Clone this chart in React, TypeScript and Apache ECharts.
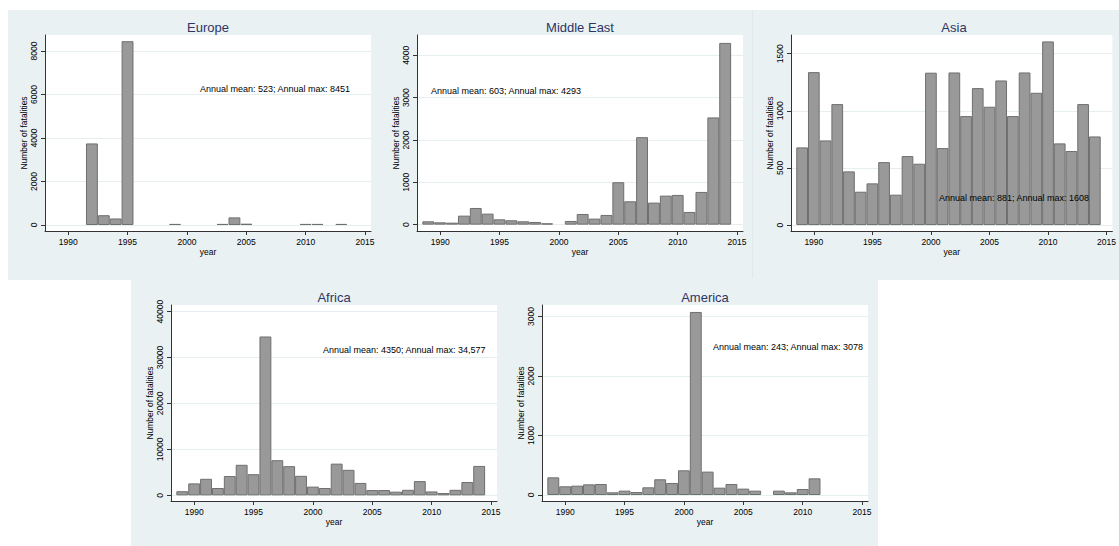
import React, { useEffect, useRef } from 'react';
import * as echarts from 'echarts';

const years = [1989, 1990, 1991, 1992, 1993, 1994, 1995, 1996, 1997, 1998, 1999, 2000, 2001, 2002, 2003, 2004, 2005, 2006, 2007, 2008, 2009, 2010, 2011, 2012, 2013, 2014];

const europe = [0, 0, 0, 3750, 450, 300, 8451, 0, 0, 0, 50, 0, 0, 0, 50, 350, 60, 0, 0, 0, 0, 50, 50, 0, 50, 0];
const middleEast = [79, 55, 47, 213, 394, 260, 126, 103, 79, 63, 32, 0, 87, 252, 142, 229, 1002, 552, 2067, 521, 686, 702, 300, 773, 2533, 4293];
const asia = [680, 1339, 741, 1059, 470, 292, 365, 551, 266, 604, 537, 1334, 674, 1336, 954, 1199, 1036, 1266, 954, 1336, 1158, 1608, 715, 648, 1059, 776];
const africa = [900, 2600, 3600, 1600, 4200, 6650, 4600, 34577, 7650, 6350, 4250, 1900, 1600, 6900, 5550, 2700, 1150, 1150, 800, 1200, 3100, 850, 500, 1200, 2900, 6400];
const america = [297, 146, 157, 179, 185, 45, 73, 50, 129, 264, 202, 415, 3078, 393, 123, 185, 107, 73, 0, 73, 45, 101, 280, 0, 0, 0];

const xTicks = [1990, 1995, 2000, 2005, 2010, 2015];
const europeTicks = [0, 2000, 4000, 6000, 8000];
const middleEastTicks = [0, 1000, 2000, 3000, 4000];
const asiaTicks = [0, 500, 1000, 1500];
const africaTicks = [0, 10000, 20000, 30000, 40000];
const americaTicks = [0, 1000, 2000, 3000];

const titles = ['Europe', 'Middle East', 'Asia', 'Africa', 'America'];
const notes = [
  'Annual mean: 523; Annual max: 8451',
  'Annual mean: 603; Annual max: 4293',
  'Annual mean: 881; Annual max: 1608',
  'Annual mean: 4350; Annual max: 34,577',
  'Annual mean: 243; Annual max: 3078',
];

const FONT = '"Liberation Sans", Arial, sans-serif';

const panels = [
  { values: europe, ticks: europeTicks, yMin: -276, yMax: 8736, left: 45, top: 35, noteX: 200, noteY: 89 },
  { values: middleEast, ticks: middleEastTicks, yMin: -150, yMax: 4480, left: 417, top: 35, noteX: 431, noteY: 91 },
  { values: asia, ticks: asiaTicks, yMin: -52, yMax: 1664, left: 791, top: 35, noteX: 939, noteY: 198 },
  { values: africa, ticks: africaTicks, yMin: -1232, yMax: 41430, left: 171, top: 305, noteX: 323, noteY: 350 },
  { values: america, ticks: americaTicks, yMin: -101, yMax: 3195, left: 542, top: 305, noteX: 713, noteY: 347 },
];

const GRID_W = 326;
const GRID_H = 196;

export default function App() {
  const ref = useRef<HTMLDivElement>(null);

  useEffect(() => {
    if (!ref.current) return;
    const chart = echarts.init(ref.current, undefined, { renderer: 'svg' });

    const grid = panels.map((p) => ({
      left: p.left,
      top: p.top,
      width: GRID_W,
      height: GRID_H,
      show: true,
      backgroundColor: '#ffffff',
      borderWidth: 0,
    }));

    const xAxis = panels.map((p, i) => ({
      type: 'value',
      gridIndex: i,
      min: 1988.05,
      max: 2015.5,
      name: 'year',
      nameLocation: 'middle',
      nameGap: 16,
      nameTextStyle: { fontFamily: FONT, fontSize: 8.5, color: '#000' },
      axisLine: { show: true, onZero: false, lineStyle: { color: '#333', width: 1 } },
      axisTick: { show: true, length: 4, customValues: xTicks, lineStyle: { color: '#333' } },
      axisLabel: {
        customValues: xTicks,
        margin: 6,
        fontFamily: FONT,
        fontSize: 8.5,
        color: '#000',
        formatter: (v: number) => String(v),
      },
      splitLine: { show: false },
    }));

    const yAxis = panels.map((p, i) => ({
      type: 'value',
      gridIndex: i,
      min: p.yMin,
      max: p.yMax,
      name: 'Number of fatalities',
      nameLocation: 'middle',
      nameGap: 17,
      nameTextStyle: { fontFamily: FONT, fontSize: 8.5, color: '#000' },
      axisLine: { show: true, onZero: false, lineStyle: { color: '#333', width: 1 } },
      axisTick: { show: true, length: 4, customValues: p.ticks, lineStyle: { color: '#333' } },
      axisLabel: {
        customValues: p.ticks,
        rotate: 90,
        margin: 7,
        fontFamily: FONT,
        fontSize: 8.5,
        color: '#000',
        formatter: (v: number) => String(v),
      },
      splitLine: { show: true, lineStyle: { color: '#e6eef0', width: 1 } },
    }));

    const series = panels.map((p, i) => ({
      type: 'bar',
      xAxisIndex: i,
      yAxisIndex: i,
      barWidth: '100%',
      data: years.map((y, k) => [y, p.values[k]]).filter((d) => d[1] > 0),
      itemStyle: { color: '#999999', borderColor: '#6f6f6f', borderWidth: 1 },
      silent: true,
    }));

    const graphic: any[] = [
      { type: 'rect', z: -100, shape: { x: 8, y: 10, width: 1111, height: 270 }, style: { fill: '#eaf1f3' } },
      { type: 'rect', z: -100, shape: { x: 131, y: 280, width: 747, height: 266 }, style: { fill: '#eaf1f3' } },
      { type: 'line', z: -99, shape: { x1: 752.5, y1: 10, x2: 752.5, y2: 278 }, style: { stroke: '#e1e9ec', lineWidth: 1 } },
    ];
    panels.forEach((p, i) => {
      graphic.push({
        type: 'text',
        z: 100,
        x: p.left + GRID_W / 2,
        y: p.top - 8,
        style: {
          text: titles[i],
          textAlign: 'center',
          textVerticalAlign: 'middle',
          fontFamily: FONT,
          fontSize: 13,
          fill: '#2e3565',
        },
      });
      graphic.push({
        type: 'text',
        z: 100,
        x: p.noteX,
        y: p.noteY,
        style: {
          text: notes[i],
          textAlign: 'left',
          textVerticalAlign: 'middle',
          fontFamily: FONT,
          fontSize: 9,
          fill: '#000',
        },
      });
    });

    chart.setOption({
      animation: false,
      backgroundColor: '#ffffff',
      grid,
      xAxis,
      yAxis,
      series,
      graphic,
    } as any);

    return () => chart.dispose();
  }, []);

  return (
    <div
      ref={ref}
      style={{ position: 'fixed', left: 0, top: 0, width: 1119, height: 546 }}
    />
  );
}
